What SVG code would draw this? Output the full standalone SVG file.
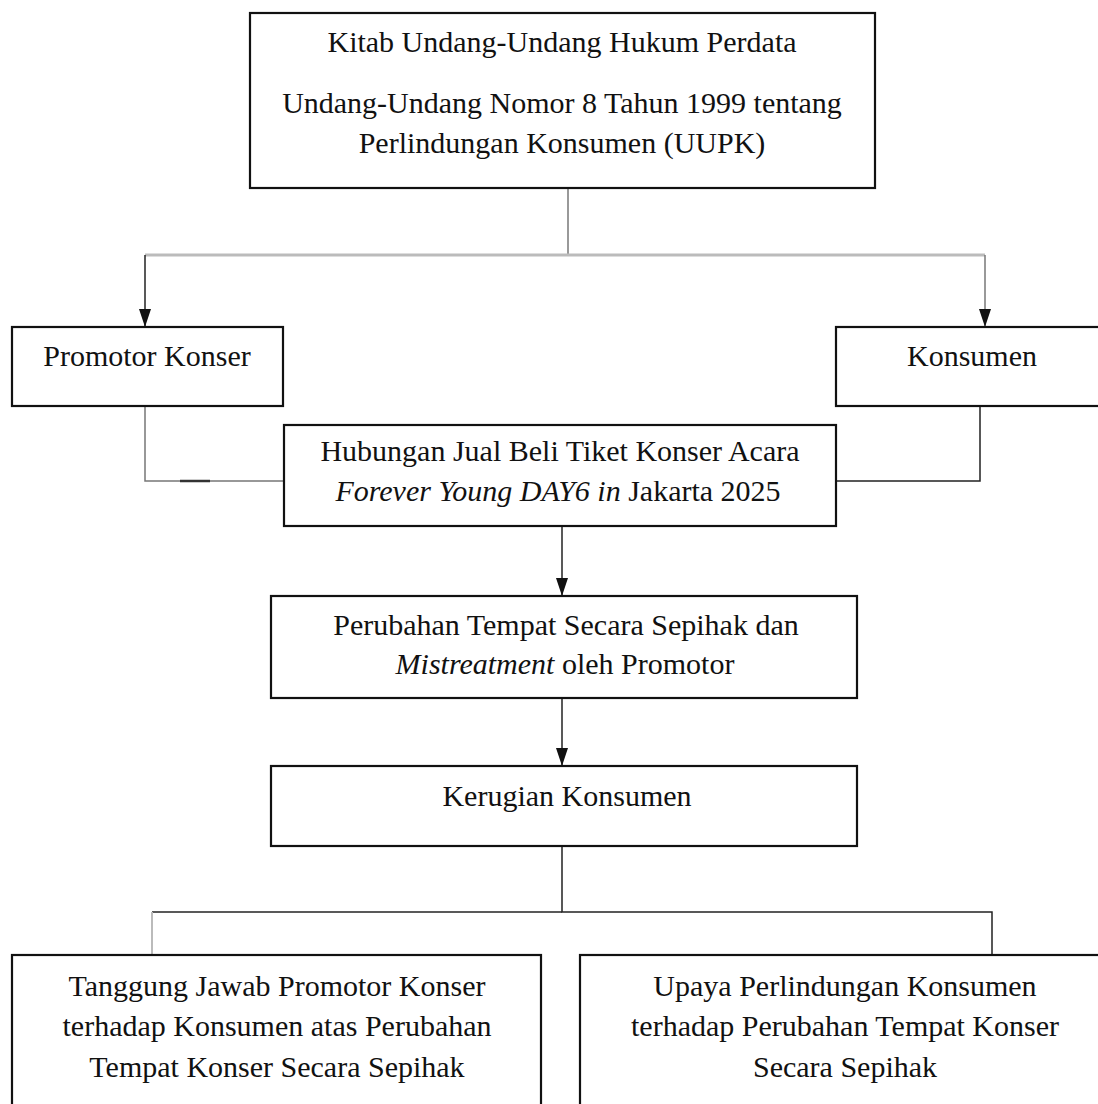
<svg xmlns="http://www.w3.org/2000/svg" width="1098" height="1104" viewBox="0 0 1098 1104">
<style>
.box{fill:#fff;stroke:#111;stroke-width:2.2}
.t{font-family:"Liberation Serif","Times New Roman",serif;font-size:30px;fill:#111;text-anchor:middle}
.i{font-style:italic}
.c{fill:none;stroke:#222;stroke-width:1.5}
.g{fill:none;stroke:#777;stroke-width:1.5}
.lg{fill:none;stroke:#bbb;stroke-width:3}
</style>
<defs>
<marker id="arrd" markerWidth="18" markerHeight="12" refX="18" refY="6" orient="auto" markerUnits="userSpaceOnUse" viewBox="0 0 18 12">
<path d="M0,0 L18,6 L0,12 Z" fill="#111"/>
</marker>
</defs>
<rect width="1098" height="1104" fill="#fff"/>
<g id="connectors">
<path class="g" d="M568,188 V255"/>
<path class="lg" d="M145,255 H985"/>
<path class="c" d="M145,255 V327" marker-end="url(#arrd)"/>
<path class="g" d="M985,255 V327" marker-end="url(#arrd)"/>
<path class="g" d="M145,406 V481 H284"/>
<path d="M180,481 H210" stroke="#333" stroke-width="2.5"/>
<path class="c" d="M980,406 V481 H836"/>
<path class="c" d="M562,526 V596" marker-end="url(#arrd)"/>
<path class="c" d="M562,698 V766" marker-end="url(#arrd)"/>
<path class="c" d="M562,846 V912 H992 V955"/>
<path class="c" d="M562,912 H152"/>
<path class="lg" d="M152,912 V955" style="stroke-width:2"/>
</g>
<g id="n1">
<rect class="box" x="250" y="13" width="625" height="175"/>
<text class="t" x="562" y="52">Kitab Undang-Undang Hukum Perdata</text>
<text class="t" x="562" y="113">Undang-Undang Nomor 8 Tahun 1999 tentang</text>
<text class="t" x="562" y="153">Perlindungan Konsumen (UUPK)</text>
</g>
<g id="n2">
<rect class="box" x="12" y="327" width="271" height="79"/>
<text class="t" x="147" y="366">Promotor Konser</text>
</g>
<g id="n3">
<rect class="box" x="836" y="327" width="270" height="79"/>
<text class="t" x="972" y="366">Konsumen</text>
</g>
<g id="n4">
<rect class="box" x="284" y="425" width="552" height="101"/>
<text class="t" x="560" y="461">Hubungan Jual Beli Tiket Konser Acara</text>
<text class="t" x="558" y="501"><tspan class="i">Forever Young DAY6 in</tspan> Jakarta 2025</text>
</g>
<g id="n5">
<rect class="box" x="271" y="596" width="586" height="102"/>
<text class="t" x="566" y="635">Perubahan Tempat Secara Sepihak dan</text>
<text class="t" x="565" y="674"><tspan class="i">Mistreatment</tspan> oleh Promotor</text>
</g>
<g id="n6">
<rect class="box" x="271" y="766" width="586" height="80"/>
<text class="t" x="567" y="806">Kerugian Konsumen</text>
</g>
<g id="n7">
<rect class="box" x="12" y="955" width="529" height="160"/>
<text class="t" x="277" y="996">Tanggung Jawab Promotor Konser</text>
<text class="t" x="277" y="1036">terhadap Konsumen atas Perubahan</text>
<text class="t" x="277" y="1077">Tempat Konser Secara Sepihak</text>
</g>
<g id="n8">
<rect class="box" x="580" y="955" width="530" height="160"/>
<text class="t" x="845" y="996">Upaya Perlindungan Konsumen</text>
<text class="t" x="845" y="1036">terhadap Perubahan Tempat Konser</text>
<text class="t" x="845" y="1077">Secara Sepihak</text>
</g>
</svg>
